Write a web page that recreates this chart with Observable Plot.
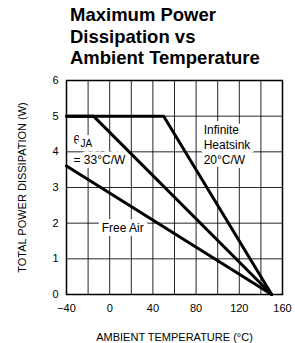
<!DOCTYPE html>
<html>
<head>
<meta charset="utf-8">
<script src="https://cdn.jsdelivr.net/npm/d3@7"></script>
<script src="https://cdn.jsdelivr.net/npm/@observablehq/plot@0.6"></script>
<style>
  html, body { margin: 0; padding: 0; background: #fff; }
  #title { font-family: "Liberation Sans", Arial, sans-serif; font-weight: bold; font-size: 18.5px; line-height: 21.5px; padding: 4px 0 0 70px; height: 65px; box-sizing: border-box; color: #000; }
  #chart svg { display: block; }
</style>
</head>
<body>
<div id="title">Maximum Power<br>Dissipation vs<br>Ambient Temperature</div>
<div id="chart"></div>
<script>
// Data (temperature °C, power W)
const heatsinkTemp = [-40, 50, 150];
const heatsinkPower = [5, 5, 0];
const theta33Temp = [-40, -15, 150];
const theta33Power = [5, 5, 0];
const freeAirTemp = [-40, 150];
const freeAirPower = [3.6, 0];
const xTicks = [-40, 0, 40, 80, 120, 160];
const xGrid = [-40, -20, 0, 20, 40, 60, 80, 100, 120, 140, 160];
const yTicks = [0, 1, 2, 3, 4, 5, 6];

const toRows = (t, p, s) => t.map((x, i) => ({t: x, p: p[i], s}));
const rows = [
  ...toRows(heatsinkTemp, heatsinkPower, "heatsink"),
  ...toRows(theta33Temp, theta33Power, "theta33"),
  ...toRows(freeAirTemp, freeAirPower, "freeair")
];

const startLabels = [
  {t: -33.5, p: 3.78, text: "= 33°C/W"},
  {t: 87, p: 4.6, text: "Infinite"},
  {t: 87, p: 4.18, text: "Heatsink"},
  {t: 87, p: 3.76, text: "20°C/W"}
];
const midLabels = [{t: 12, p: 1.86, text: "Free Air"}];

const font = "Liberation Sans, Arial, sans-serif";
const halo = {fill: "#000", stroke: "#fff", strokeWidth: 8, fontFamily: font};

const chart = Plot.plot({
  width: 295,
  height: 278,
  marginLeft: 66,
  marginRight: 13,
  marginTop: 15,
  marginBottom: 49,
  style: {fontFamily: font, fontSize: "11px", background: "#fff", color: "#000"},
  x: {domain: [-40, 160], ticks: xTicks, tickSize: 0, tickPadding: 10, tickFormat: d => d < 0 ? "\u2212" + Math.abs(d) : String(d), label: "AMBIENT TEMPERATURE (°C)", labelAnchor: "center", labelOffset: 46, labelArrow: "none"},
  y: {domain: [0, 6], ticks: yTicks, tickSize: 0, tickPadding: 8, tickFormat: d3.format("d"), label: "TOTAL POWER DISSIPATION (W)", labelAnchor: "center", labelOffset: 48, labelArrow: "none"},
  marks: [
    Plot.gridX(xGrid, {stroke: "#000", strokeOpacity: 0.85, strokeWidth: 1}),
    Plot.gridY(yTicks, {stroke: "#000", strokeOpacity: 0.85, strokeWidth: 1}),
    Plot.text(startLabels, {x: "t", y: "p", text: "text", textAnchor: "start", fontSize: 12, letterSpacing: 0.4, ...halo}),
    Plot.text(midLabels, {x: "t", y: "p", text: "text", textAnchor: "middle", fontSize: 12, letterSpacing: 0.4, ...halo}),
    Plot.text([{t: -33.5, p: 4.32}], {x: "t", y: "p", text: () => "θ", textAnchor: "start", fontSize: 12, ...halo}),
    Plot.text([{t: -33.5, p: 4.32}], {x: "t", y: "p", text: () => "JA", textAnchor: "start", dx: 7, dy: 3, fontSize: 10, ...halo}),
    Plot.frame({stroke: "#000", strokeWidth: 1.5}),
    Plot.line(rows, {x: "t", y: "p", z: "s", stroke: "#000", strokeWidth: 3})
  ]
});
document.getElementById("chart").append(chart);
</script>
</body>
</html>
